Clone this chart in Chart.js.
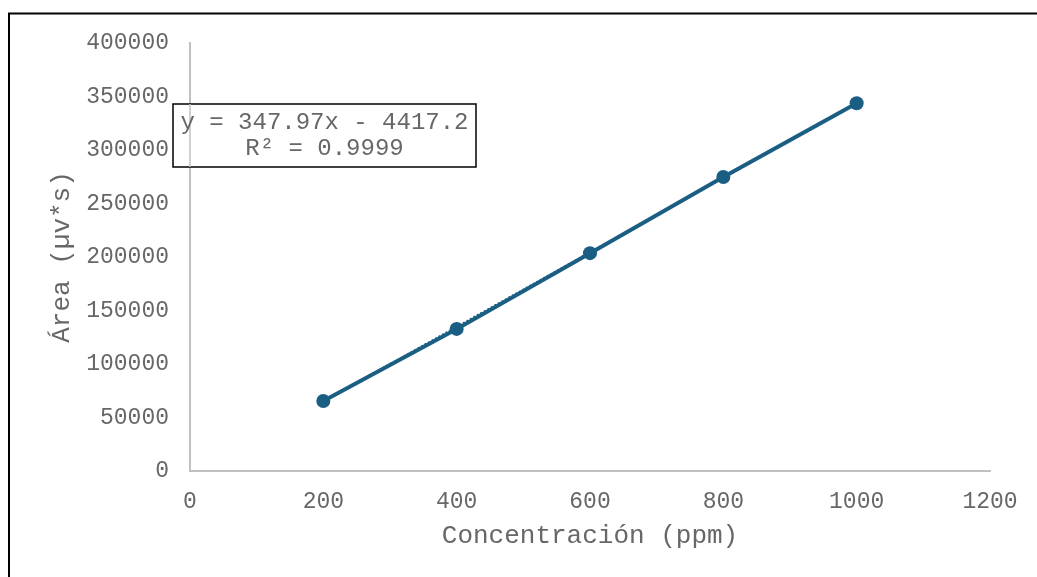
<!DOCTYPE html>
<html>
<head>
<meta charset="utf-8">
<script src="https://cdn.jsdelivr.net/npm/chart.js@4/dist/chart.umd.min.js"></script>
<style>
  html, body { margin: 0; padding: 0; background: #ffffff; }
  #wrap { width: 1037px; height: 577px; position: relative; }
</style>
</head>
<body>
<div id="wrap"><canvas id="c" width="1037" height="577"></canvas></div>
<script>
// Calibration data: concentration (ppm) vs. peak area
const concentrations = [200, 400, 600, 800, 1000];
const areas = [65400, 132800, 203600, 274800, 343700];

// Linear fit reported on the chart
const fitSlope = 347.97;
const fitIntercept = -4417.2;
const fitR2 = 0.9999;

const xTicks = [0, 200, 400, 600, 800, 1000, 1200];
const yTicks = [0, 50000, 100000, 150000, 200000, 250000, 300000, 350000, 400000];

const xTitle = 'Concentración (ppm)';
const yTitle = 'Área (µv*s)';

const MONO = '"Courier New", "Liberation Mono", monospace';
const TEXT = '#676767';
const AXIS = '#c0c0c0';
const SERIES = '#1b5e84';

const fmt = (v) => String(v);
const eqText = 'y = ' + fitSlope.toFixed(2) + 'x - ' + Math.abs(fitIntercept).toFixed(1);
const r2Text = 'R² = ' + fitR2.toFixed(4);

const trendPoints = [concentrations[0], concentrations[concentrations.length - 1]]
  .map(x => ({ x: x, y: fitSlope * x + fitIntercept }));

// Outer frame (left and top edges) and fit-equation box
const decor = {
  id: 'decor',
  beforeDraw(chart) {
    const ctx = chart.ctx;
    ctx.save();
    ctx.fillStyle = '#ffffff';
    ctx.fillRect(0, 0, chart.width, chart.height);
    ctx.strokeStyle = '#000000';
    ctx.lineWidth = 2;
    ctx.beginPath();
    ctx.moveTo(9, chart.height);
    ctx.lineTo(9, 13.5);
    ctx.lineTo(chart.width, 13.5);
    ctx.stroke();
    ctx.restore();
  },
  afterDatasetsDraw(chart) {
    const ctx = chart.ctx;
    ctx.save();
    const bx = 173, by = 104, bw = 303, bh = 63;
    ctx.fillStyle = '#ffffff';
    ctx.fillRect(bx, by, bw, bh);
    ctx.strokeStyle = '#000000';
    ctx.lineWidth = 1.5;
    ctx.strokeRect(bx, by, bw, bh);
    // y-axis line shows through the box
    ctx.strokeStyle = AXIS;
    ctx.lineWidth = 1.5;
    ctx.beginPath();
    ctx.moveTo(chart.chartArea.left, by);
    ctx.lineTo(chart.chartArea.left, by + bh);
    ctx.stroke();
    ctx.fillStyle = TEXT;
    ctx.font = '24px ' + MONO;
    ctx.textAlign = 'center';
    ctx.textBaseline = 'middle';
    ctx.fillText(eqText, bx + bw / 2, by + 19);
    ctx.fillText(r2Text, bx + bw / 2, by + 45);
    ctx.restore();
  }
};

new Chart(document.getElementById('c'), {
  type: 'scatter',
  data: {
    datasets: [
      {
        label: 'Área',
        data: concentrations.map((x, i) => ({ x: x, y: areas[i] })),
        showLine: true,
        borderColor: SERIES,
        backgroundColor: SERIES,
        borderWidth: 4,
        pointRadius: 7,
        pointHoverRadius: 7,
        pointBorderWidth: 0,
        order: 1
      },
      {
        label: 'Lineal',
        data: trendPoints,
        showLine: true,
        borderColor: SERIES,
        borderWidth: 2,
        borderDash: [2, 2],
        pointRadius: 0,
        order: 2
      }
    ]
  },
  options: {
    responsive: false,
    animation: false,
    events: [],
    layout: { padding: { left: 47, right: 47, top: 43, bottom: 25 } },
    plugins: {
      legend: { display: false },
      tooltip: { enabled: false }
    },
    scales: {
      x: {
        type: 'linear',
        min: 0,
        max: 1200,
        afterBuildTicks(axis) { axis.ticks = xTicks.map(v => ({ value: v })); },
        afterFit(axis) { axis.height = 577 - 25 - 471; },
        grid: { display: false, drawTicks: false },
        border: { display: true, color: AXIS, width: 2 },
        ticks: {
          color: TEXT,
          font: { family: MONO, size: 23 },
          padding: 17,
          callback: fmt
        },
        title: {
          display: true,
          text: xTitle,
          color: TEXT,
          font: { family: MONO, size: 26 },
          padding: 0
        }
      },
      y: {
        type: 'linear',
        min: 0,
        max: 400000,
        afterBuildTicks(axis) { axis.ticks = yTicks.map(v => ({ value: v })); },
        afterFit(axis) { axis.width = 190 - 47; },
        grid: { display: false, drawTicks: false },
        border: { display: true, color: AXIS, width: 2 },
        ticks: {
          color: TEXT,
          font: { family: MONO, size: 23 },
          padding: 21,
          callback: fmt
        },
        title: {
          display: true,
          text: yTitle,
          color: TEXT,
          font: { family: MONO, size: 26 },
          padding: 0
        }
      }
    }
  },
  plugins: [decor]
});
</script>
</body>
</html>
